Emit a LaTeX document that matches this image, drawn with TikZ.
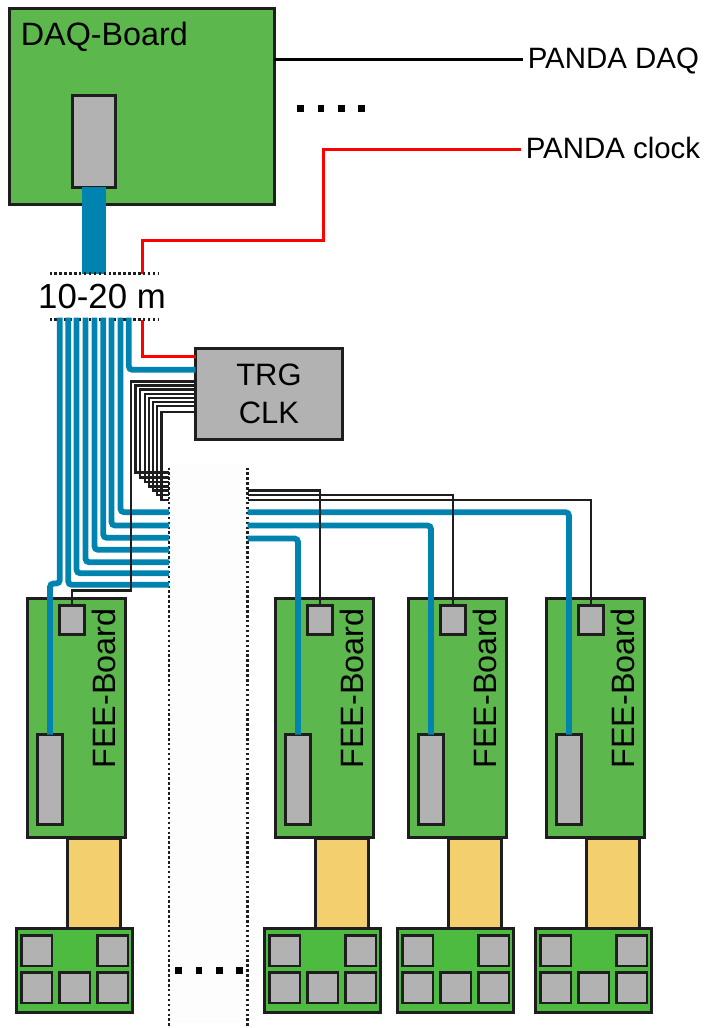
\documentclass[tikz,border=0pt]{standalone}
\usepackage{fontspec}
\setmainfont{Liberation Sans}
\usetikzlibrary{positioning}
\definecolor{pcb}{RGB}{92,184,76}
\definecolor{hybrid}{RGB}{76,187,64}
\definecolor{chipgray}{RGB}{178,178,178}
\definecolor{fibre}{RGB}{0,131,174}
\definecolor{flex}{RGB}{244,207,109}
\definecolor{ink}{RGB}{30,30,30}
\definecolor{paper}{RGB}{253,253,253}
\newcommand{\labelfont}{\fontsize{17.6}{22}\selectfont}
\newcommand{\boardfont}{\fontsize{18.4}{22}\selectfont}
\newcommand{\tagfont}{\fontsize{16.75}{22}\selectfont}
\tikzset{
  board/.style={draw=ink,fill=pcb,line width=1.3pt,inner sep=0pt,outer sep=0pt,anchor=north west},
  chip/.style={draw=ink,fill=chipgray,line width=1.3pt,inner sep=0pt,outer sep=0pt,anchor=north west},
  flexcable/.style={draw=ink,fill=flex,line width=1.3pt,inner sep=0pt,outer sep=0pt,anchor=north west},
  fibreline/.style={draw=fibre,line width=3.3pt,rounded corners=2pt},
  wire/.style={draw=ink,line width=1.2pt},
  clockline/.style={draw=red,line width=2pt},
  cut/.style={draw=ink,line width=1.3pt,dash pattern=on 1.4pt off 1.4pt},
  tag/.style={font=\tagfont,text=black,inner sep=3pt,outer sep=0pt,text height=11pt,text depth=0.8pt},
  dot/.style={fill=black,inner sep=0pt,minimum size=3.8pt}
}
\begin{document}
\begin{tikzpicture}[x=0.02cm,y=-0.02cm]
    \useasboundingbox (-0.5,-0.5) rectangle (703.5,1027.5);
    \node[fill=paper,inner sep=0pt,minimum width=1.57cm,minimum height=11.2cm,anchor=north west] (band) at (168.5,462) {};
    \coordinate (cutLtop) at (168.5,467);
    \coordinate (cutLend) at (168.5,1027.5);
    \coordinate (cutRtop) at (247,467);
    \coordinate (cutRend) at (247,1027.5);
    \draw[cut] (cutLtop) -- (cutLend);
    \draw[cut] (cutRtop) -- (cutRend);

    \node[board,minimum width=5.3cm,minimum height=3.92cm] (daq) at (9,8) {};
    \node[chip,minimum width=0.86cm,minimum height=1.84cm] (daqchip) at (72,95) {};
    \node[font=\boardfont,anchor=base west,inner sep=0pt] (daqtext) at (20,45) {DAQ-Board};
    \node[tag,anchor=west] (pdaq) at (522,59) {PANDA DAQ};
    \node[tag,anchor=west] (pclock) at (520,149) {PANDA clock};
    \node[draw=ink,fill=chipgray,line width=1.3pt,font=\labelfont,align=center,minimum width=2.94cm,minimum height=1.82cm,inner sep=0pt,outer sep=0pt,anchor=north west] (trg) at (195,348) {TRG\\CLK};
    \draw[line width=2pt] (daq.east |- pdaq.west) -- (pdaq.west);
    \foreach \x [count=\i] in {300,320.5,341,361}
      \node[dot] (topdot\i) at (\x,108) {};
    \foreach \x [count=\i] in {178,198.5,218.7,239}
      \node[dot] (botdot\i) at (\x,970) {};

    \coordinate (lentop) at (93.5,273);
    \draw[fibre,line width=0.48cm] (daqchip.south) -- (daqchip.south |- lentop);
    \coordinate (bendA) at (323,240);
    \coordinate (bendB) at (142,356);
    \draw[clockline] (pclock.west) -| (bendA) -| (bendB) -- (trg.west |- bendB);
    \node[fill=white,inner sep=0pt,outer sep=0pt,minimum width=2.74cm,minimum height=0.92cm,font=\fontsize{19.8}{24}\selectfont] (len) at (101.5,296) {10-20 m};
    \draw[cut] ([xshift=0.32cm]len.north west) -- ([xshift=-0.22cm]len.north east);
    \draw[cut] ([xshift=0.32cm]len.south west) -- ([xshift=-0.22cm]len.south east);

    \foreach \x [count=\i] in {27,275,408,546}
    {
      \node[board,minimum width=1.96cm,minimum height=4.78cm] (fee\i) at (\x,598) {};
      \node[chip,minimum width=0.5cm,minimum height=1.8cm] (sock\i) at (\x+10,734) {};
      \node[chip,minimum width=0.5cm,minimum height=0.58cm] (pad\i) at (\x+32,605) {};
      \node[font=\boardfont,rotate=90,inner sep=0pt] (feetext\i) at (\x+76,688) {FEE-Board};
      \node[flexcable,minimum width=1.06cm,minimum height=1.8cm] (flex\i) at (\x+40,838) {};
      \node[board,fill=hybrid,minimum width=2.32cm,minimum height=1.68cm] (hyb\i) at (\x-11,928) {};
      \foreach \dx/\dy [count=\j] in {5/935,81/935,5/972,43/972,81/972}
        \node[chip,minimum size=0.61cm] (hyb\i-\j) at (\x-11+\dx,\dy) {};
    }

    \foreach \x/\y [count=\i] in {67.7/584.3,76/572.7,85/561.7,94/549.3,102.7/537.3,111/525,120/511.7}
    {
      \coordinate (in\i) at (\x,317);
      \coordinate (out\i) at (168.5,\y);
      \draw[fibreline] (in\i) |- (out\i);
    }
    \coordinate (inA) at (59.3,317);
    \coordinate (inB) at (128.3,317);
    \coordinate (bendC) at (59.3,583);
    \coordinate (trgfib) at (195,369.3);
    \draw[fibreline] (inB) |- (trgfib);
    \draw[fibreline] (inA) -- (bendC) -| (sock1.north);
    \coordinate (ret1) at (247,511.7);
    \coordinate (ret2) at (247,525);
    \coordinate (ret3) at (247,538);
    \draw[fibreline] (ret1) -| (sock4.north);
    \draw[fibreline] (ret2) -| (sock3.north);
    \draw[fibreline] (ret3) -| (sock2.north);

    \foreach \x/\t/\e [count=\i] in {135/385/472,139.3/389/477,144.3/393.3/481.5,148.3/397.3/486,152.3/401.7/490,156.7/405.7/494.5,161/411.7/499.3}
    {
      \coordinate (tap\i) at (195,\t);
      \coordinate (stub\i) at (168.5,\e);
      \draw[wire] (tap\i) -- (\x,\t) |- (stub\i);
    }
    \coordinate (tapO) at (195,381);
    \coordinate (bendD) at (130.5,590);
    \draw[wire] (tapO) -- (130.5,381) -- (bendD) -| (pad1.north);
    \coordinate (back1) at (247,490);
    \coordinate (back2) at (247,494.5);
    \coordinate (back3) at (247,499.3);
    \draw[wire] (back1) -| (pad2.north);
    \draw[wire] (back2) -| (pad3.north);
    \draw[wire] (back3) -| (pad4.north);
  \end{tikzpicture}
\end{document}
